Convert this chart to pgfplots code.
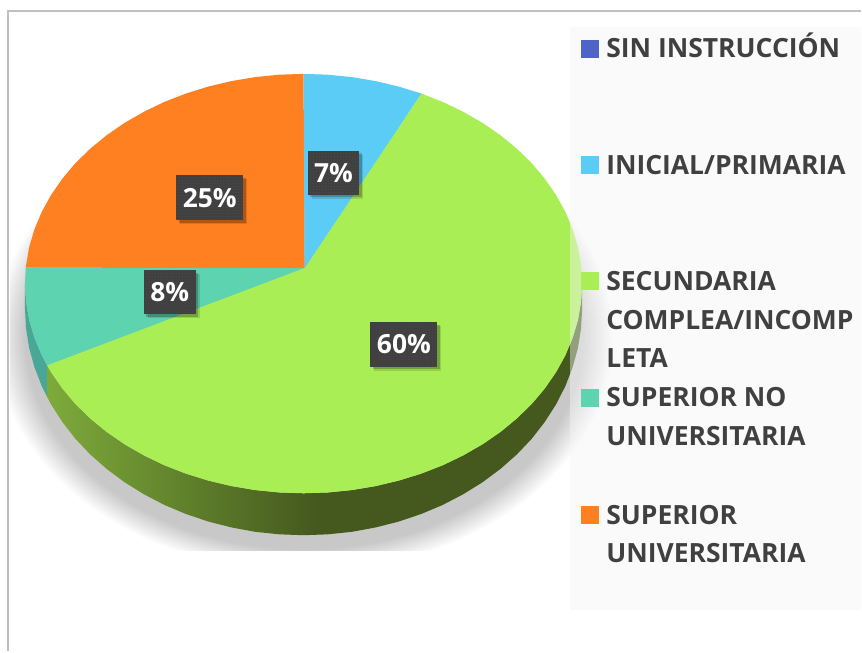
\documentclass[border=0pt]{standalone}
\usepackage{pgfplots}
\pgfplotsset{compat=1.18}
\usepackage{fontspec}
\setmainfont{Open Sans}
\usetikzlibrary{patterns}
\definecolor{cOrange}{HTML}{FF8021}
\definecolor{cBlue}{HTML}{5BCCF6}
\definecolor{cGreen}{HTML}{A9EE55}
\definecolor{cTeal}{HTML}{5ED3B0}
\definecolor{cTealSide}{HTML}{48A796}
\definecolor{cSideA}{HTML}{7DAB3A}
\definecolor{cSideB}{HTML}{45591E}
\definecolor{cIndigo}{HTML}{4F64C7}
\definecolor{cText}{HTML}{404040}
\definecolor{cBox}{HTML}{404040}
\definecolor{cPanel}{HTML}{F5F5F5}
\definecolor{cShadow}{HTML}{C8C8C8}
\definecolor{cFrame}{HTML}{BFBFBF}
\pgfdeclareradialshading{glow}{\pgfpointorigin}{color(0bp)=(cShadow);color(22.5bp)=(cShadow);color(23.5bp)=(cShadow!60!white);color(25bp)=(white);color(50bp)=(white)}
\newcommand{\lbl}[5]{%
  \node[fill=black,opacity=.12,minimum width=#3bp,minimum height=#4bp,inner sep=0pt,xshift=4bp,yshift=-4bp] at (axis cs:#1,#2) {};
  \node[fill=black,opacity=.22,minimum width=#3bp,minimum height=#4bp,inner sep=0pt,xshift=2.5bp,yshift=-2.5bp] at (axis cs:#1,#2) {};
  \node[fill=cBox,minimum width=#3bp,minimum height=#4bp,inner sep=0pt] at (axis cs:#1,#2) {};
  \node[pattern=dots,pattern color=white,opacity=.10,minimum width=#3bp,minimum height=#4bp,inner sep=0pt] at (axis cs:#1,#2) {};
  \node[text=white,inner sep=0pt,font=\fontsize{26.5}{26.5}\selectfont\bfseries] at (axis cs:#1,#2) {#5};
}
\newcommand{\leg}[2]{\node[anchor=base west,inner sep=0pt,text=cText,font=\fontsize{26.6}{26.6}\selectfont\bfseries] at (axis cs:607,#1) {#2};}
\begin{document}
\begin{tikzpicture}
\begin{axis}[
  width=862bp,height=652bp,scale only axis,
  xmin=0,xmax=862,ymin=0,ymax=652,y dir=reverse,
  axis lines=none,clip=false,
]
\path (axis cs:0,0) rectangle (axis cs:862,652);
% frame
\addplot[cFrame,line width=2.5bp,forget plot] coordinates {(8,652) (8,11) (862,11)};
% shadow
\begin{scope}
\clip (axis cs:10,60) rectangle (axis cs:620,551);
\shade[overlay,shading=glow] (axis cs:304,337) ellipse [x radius=310bp,y radius=236bp];
\end{scope}
% teal side
\addplot[fill=cTealSide,draw=none,forget plot] coordinates {
(25,284) (26.1,302.3) (29.2,320.5) (34.5,338.3) (41.8,355.8) (47.2,366)
(47.2,397.6) (41.8,386.6) (34.5,367.7) (29.2,348.5) (26.1,328.8) (25,309)};
% green side
\addplot[left color=cSideA,right color=cSideB,middle color=cSideB,draw=none,forget plot] coordinates {
(47.2,366) (51.1,372.7) (62.4,389) (75.4,404.5) (90.3,419) (106.7,432.5) (124.7,444.9) (144,456)
(164.5,465.9) (186.1,474.3) (208.6,481.3) (231.8,486.8) (255.6,490.8) (279.7,493.2) (304,494)
(328.3,493.2) (352.4,490.8) (376.2,486.8) (399.4,481.3) (421.9,474.3) (443.5,465.9) (464,456)
(483.3,444.9) (501.3,432.5) (517.7,419) (532.6,404.5) (545.6,389) (556.9,372.7) (566.2,355.8)
(573.5,338.3) (578.8,320.5) (581.9,302.3) (583,284)
(583,309) (581.9,328.8) (578.8,348.5) (573.5,367.7) (566.2,386.6) (556.9,404.9) (545.6,422.5)
(532.6,439.3) (517.7,455) (501.3,469.5) (483.3,482.9) (464,494.9) (443.5,505.6) (421.9,514.7)
(399.4,522.3) (376.2,528.2) (352.4,532.6) (328.3,535.1) (304,536) (279.7,535.1) (255.6,532.6)
(231.8,528.2) (208.6,522.3) (186.1,514.7) (164.5,505.6) (144,494.9) (124.7,482.9) (106.7,469.5)
(90.3,455) (75.4,439.3) (62.4,422.5) (51.1,404.9) (47.2,397.6)};
% orange 25%
\addplot[fill=cOrange,draw=none,forget plot] coordinates {
(305,268.5) (304,74) (279.7,74.8) (255.6,77.2) (231.8,81.2) (208.6,86.7) (186.1,93.7) (164.5,102.1)
(144,112) (124.7,123.1) (106.7,135.5) (90.3,149) (75.4,163.5) (62.4,179) (51.1,195.3) (41.8,212.2)
(34.5,229.7) (29.2,247.5) (26.1,265.7) (25.8,268)};
% teal 8%
\addplot[fill=cTeal,draw=none,forget plot] coordinates {
(305,268.5) (25.8,268) (25,284) (26.1,302.3) (29.2,320.5) (34.5,338.3) (41.8,355.8) (47.2,366)};
% green 60%
\addplot[fill=cGreen,draw=none,forget plot] coordinates {
(305,268.5) (47.2,366) (51.1,372.7) (62.4,389) (75.4,404.5) (90.3,419) (106.7,432.5) (124.7,444.9) (144,456)
(164.5,465.9) (186.1,474.3) (208.6,481.3) (231.8,486.8) (255.6,490.8) (279.7,493.2) (304,494)
(328.3,493.2) (352.4,490.8) (376.2,486.8) (399.4,481.3) (421.9,474.3) (443.5,465.9) (464,456)
(483.3,444.9) (501.3,432.5) (517.7,419) (532.6,404.5) (545.6,389) (556.9,372.7) (566.2,355.8)
(573.5,338.3) (578.8,320.5) (581.9,302.3) (583,284) (581.9,265.7) (578.8,247.5) (573.5,229.7)
(566.2,212.2) (556.9,195.3) (545.6,179) (532.6,163.5) (517.7,149) (501.3,135.5) (483.3,123.1)
(464,112) (443.5,102.1) (421.9,93.7)};
% blue 7%
\addplot[fill=cBlue,draw=none,forget plot] coordinates {
(305,268.5) (421.9,93.7) (399.4,86.7) (376.2,81.2) (352.4,77.2) (328.3,74.8) (304,74)};
% legend panel
\addplot[fill=cPanel,fill opacity=.45,draw=none,forget plot] coordinates {(571,27) (862,27) (862,611) (571,611)};
% legend markers
\addplot[only marks,mark=square*,mark size=8.5bp,color=cIndigo,forget plot] coordinates {(590.5,48.5)};
\addplot[only marks,mark=square*,mark size=8.5bp,color=cBlue,forget plot] coordinates {(590.5,165)};
\addplot[only marks,mark=square*,mark size=8.5bp,color=cGreen,forget plot] coordinates {(590.5,281.5)};
\addplot[only marks,mark=square*,mark size=8.5bp,color=cTeal,forget plot] coordinates {(590.5,398.5)};
\addplot[only marks,mark=square*,mark size=8.5bp,color=cOrange,forget plot] coordinates {(590.5,515)};
% legend text
\leg{57.5}{SIN INSTRUCCIÓN}
\leg{175}{INICIAL/PRIMARIA}
\leg{291}{SECUNDARIA}
\leg{330}{COMPLEA/INCOMP}
\leg{368}{LETA}
\leg{407}{SUPERIOR NO}
\leg{446}{UNIVERSITARIA}
\leg{525}{SUPERIOR}
\leg{563}{UNIVERSITARIA}
% data labels
\lbl{210}{198}{67}{45}{25\%}
\lbl{334}{173}{52}{44.5}{7\%}
\lbl{170}{292.5}{52}{44}{8\%}
\lbl{404.5}{345}{67}{44.5}{60\%}
\end{axis}
\end{tikzpicture}
\end{document}
